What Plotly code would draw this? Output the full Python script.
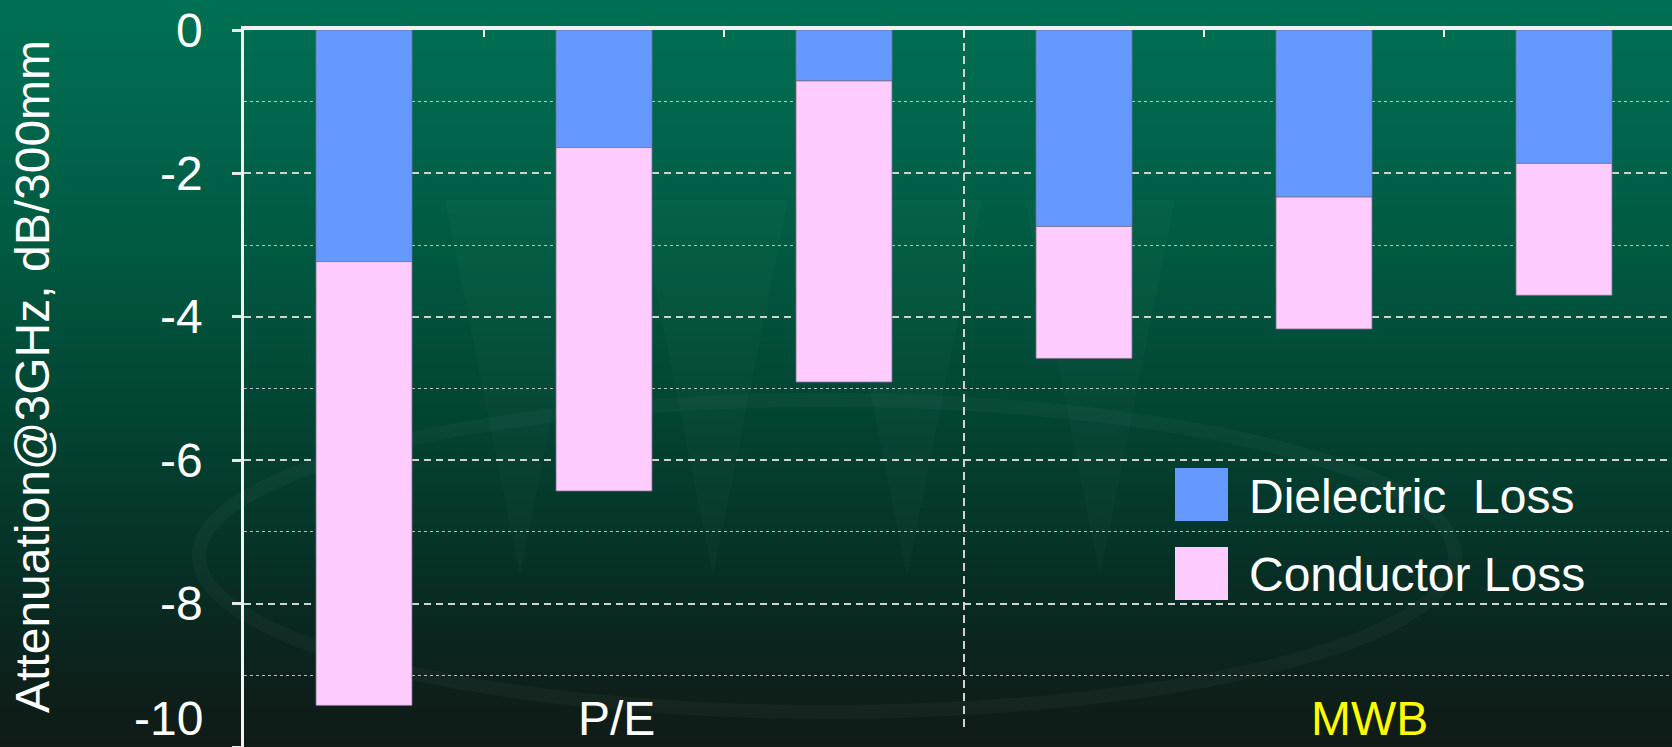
import base64
import struct
import zlib

import plotly.graph_objects as go

# ---- data -------------------------------------------------------------
categories = ["P/E 1", "P/E 2", "P/E 3", "MWB 1", "MWB 2", "MWB 3"]
dielectric_loss = [-3.23, -1.64, -0.71, -2.74, -2.33, -1.86]
conductor_loss = [-6.19, -4.79, -4.20, -1.84, -1.84, -1.84]
series_names = ["Dielectric\u00a0 Loss", "Conductor Loss"]
group_labels = ["P/E", "MWB"]
y_tick_vals = [0, -2, -4, -6, -8, -10]
y_tick_text = ["0", "-2", "-4", "-6", "-8", "-10"]
y_minor_vals = [-1, -3, -5, -7, -9]
y_title = "Attenuation@3GHz, dB/300mm"

# ---- canvas geometry --------------------------------------------------
W, H = 1672, 747
ML, MT = 244, 30
PW, PH = W - ML, H - MT
SLOT = 240  # pixels per category


def px_x(p):
    return (p - ML) / PW


def px_y(p):
    return (H - p) / PH


FONT = "Arial, Liberation Sans, sans-serif"
BLUE = "#6699FF"
PINK = "#FFCCFF"
GRID = "#d2d2d2"


# ---- background gradient as a 1 px wide PNG ---------------------------
def gradient_png(stops, height):
    rows = []
    for y in range(height):
        for (y0, c0), (y1, c1) in zip(stops, stops[1:]):
            if y0 <= y <= y1:
                t = (y - y0) / (y1 - y0)
                rgb = [round(a + (b - a) * t) for a, b in zip(c0, c1)]
                break
        rows.append(b"\x00" + bytes(rgb))
    raw = b"".join(rows)

    def chunk(tag, data):
        return (struct.pack(">I", len(data)) + tag + data
                + struct.pack(">I", zlib.crc32(tag + data) & 0xFFFFFFFF))

    png = (b"\x89PNG\r\n\x1a\n"
           + chunk(b"IHDR", struct.pack(">IIBBBBB", 1, height, 8, 2, 0, 0, 0))
           + chunk(b"IDAT", zlib.compress(raw, 9))
           + chunk(b"IEND", b""))
    return "data:image/png;base64," + base64.b64encode(png).decode()


bg_stops = [
    (0, (0, 112, 82)),
    (120, (0, 102, 76)),
    (260, (0, 88, 64)),
    (400, (2, 70, 52)),
    (520, (5, 55, 42)),
    (620, (9, 40, 32)),
    (700, (14, 30, 25)),
    (746, (16, 27, 23)),
]

fig = go.Figure()

fig.add_trace(go.Bar(x=categories, y=dielectric_loss, name=series_names[0],
                     width=0.4, marker=dict(color=BLUE,
                                            line=dict(color="rgba(110,110,150,0.8)", width=1))))
fig.add_trace(go.Bar(x=categories, y=conductor_loss, name=series_names[1],
                     width=0.4, marker=dict(color=PINK,
                                            line=dict(color="rgba(120,110,140,0.8)", width=1))))

shapes = []

# faint watermark: tall wedges and a sweeping ring
for tip in (520, 713, 907, 1100):
    path = "M {} {} L {} {} L {} {} Z".format(
        px_x(tip - 75), px_y(200), px_x(tip + 75), px_y(200), px_x(tip), px_y(576))
    shapes.append(dict(type="path", path=path, xref="paper", yref="paper",
                       fillcolor="rgba(255,255,255,0.018)", line=dict(width=0),
                       layer="below"))
shapes.append(dict(type="circle", xref="paper", yref="paper",
                   x0=px_x(199), x1=px_x(1455), y0=px_y(400), y1=px_y(712),
                   line=dict(color="rgba(255,255,255,0.03)", width=14),
                   fillcolor="rgba(0,0,0,0)", layer="below"))

# dashed divider between the two board groups
shapes.append(dict(type="line", xref="x", yref="y", x0=2.5, x1=2.5, y0=0, y1=-9.75,
                   line=dict(color=GRID, width=2, dash="8px,5px"), layer="below"))

# legend swatches
for i, col in enumerate((BLUE, PINK)):
    top = 468 + i * 79
    shapes.append(dict(type="rect", xref="paper", yref="paper",
                       x0=px_x(1175), x1=px_x(1228), y0=px_y(top), y1=px_y(top + 53),
                       fillcolor=col, line=dict(width=0), layer="above"))

annotations = []
for v, t in zip(y_tick_vals, y_tick_text):
    if v == -10:
        # bottom label sits on the lower edge of the canvas
        pos = dict(y=0, yref="paper", yanchor="bottom")
    else:
        pos = dict(y=v, yref="y", yanchor="middle")
    annotations.append(dict(x=px_x(205), xref="paper", text=t,
                            xanchor="right", showarrow=False,
                            font=dict(family=FONT, size=48, color="white"), **pos))

annotations.append(dict(x=px_x(32), y=px_y(377), xref="paper", yref="paper",
                        text=y_title, textangle=-90, showarrow=False,
                        xanchor="center", yanchor="middle",
                        font=dict(family=FONT, size=48, color="white")))

for i, name in enumerate(series_names):
    annotations.append(dict(x=px_x(1247), y=px_y(496 + i * 78), xref="paper", yref="paper",
                            text=name, showarrow=False, xanchor="left", yanchor="middle",
                            font=dict(family=FONT, size=48, color="white")))

for lbl, xc, col in zip(group_labels, (1.05, 4.19), ("white", "#FFFF00")):
    annotations.append(dict(x=xc, y=0, xref="x", yref="paper", text=lbl,
                            showarrow=False, xanchor="center", yanchor="bottom",
                            font=dict(family=FONT, size=48, color=col)))

fig.update_layout(
    width=W, height=H,
    margin=dict(l=ML, r=0, t=MT, b=0, pad=0),
    barmode="relative",
    showlegend=False,
    paper_bgcolor="#0e1e19",
    plot_bgcolor="rgba(0,0,0,0)",
    images=[dict(source=gradient_png(bg_stops, H), xref="paper", yref="paper",
                 x=px_x(0), y=px_y(0), sizex=W / PW, sizey=H / PH,
                 xanchor="left", yanchor="top", sizing="stretch", layer="below")],
    shapes=shapes,
    annotations=annotations,
    xaxis=dict(
        type="category", categoryorder="array", categoryarray=categories,
        range=[-0.5, -0.5 + PW / SLOT], side="top",
        showline=True, linewidth=4, linecolor="#f2f2f2",
        ticks="inside", tickson="boundaries", ticklen=7, tickwidth=2, tickcolor="#f2f2f2",
        showgrid=False, showticklabels=False, zeroline=False, fixedrange=True,
    ),
    yaxis=dict(
        range=[-10, 0], tickvals=y_tick_vals, showticklabels=False,
        showline=True, linewidth=3, linecolor="#f2f2f2",
        ticks="outside", ticklen=9, tickwidth=3, tickcolor="#e8e8e8",
        showgrid=True, gridcolor=GRID, gridwidth=2, griddash="7px,5px",
        zeroline=False, fixedrange=True,
        minor=dict(tickvals=y_minor_vals, ticks="", showgrid=True,
                   gridcolor="rgba(215,215,215,0.85)", gridwidth=1, griddash="dot"),
    ),
)

fig.write_html("out.html")
